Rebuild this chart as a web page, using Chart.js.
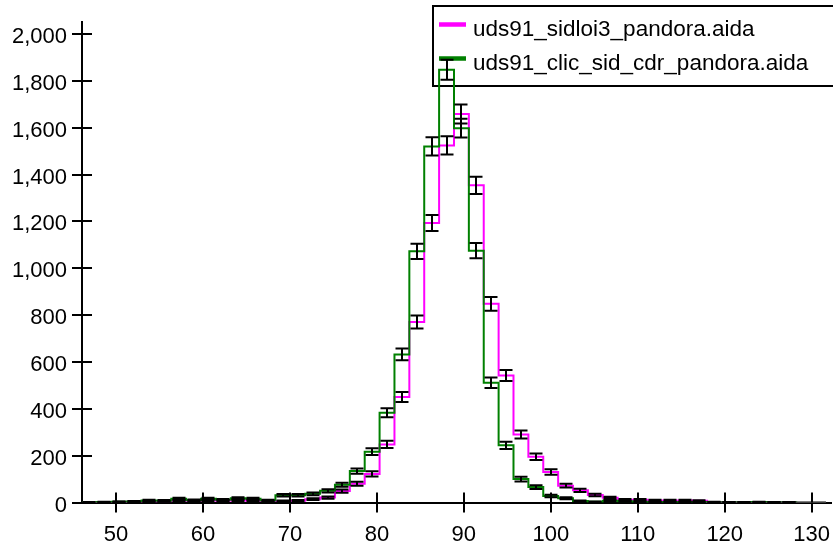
<!DOCTYPE html>
<html>
<head>
<meta charset="utf-8">
<script src="https://cdn.jsdelivr.net/npm/chart.js@4"></script>
<style>
html, body { margin: 0; padding: 0; background: white; }
</style>
</head>
<body>
<canvas id="myChart" width="833" height="545"></canvas>
<script>
// histogram binning (50 bins)
const binStart = 46.09;
const binWidth = 1.711;
const xTicks = [50, 60, 70, 80, 90, 100, 110, 120, 130];
const yTicks = [0, 200, 400, 600, 800, 1000, 1200, 1400, 1600, 1800, 2000];
const seriesNames = ['uds91_sidloi3_pandora.aida', 'uds91_clic_sid_cdr_pandora.aida'];

const sidloi3 = [0, 1, 2, 3, 4, 5, 8, 7, 10, 8, 10, 8, 6, 6, 8, 14, 21, 49, 80,
    122, 248, 450, 770, 1193, 1524, 1658, 1354, 848, 542, 290, 195, 130, 72,
    52, 32, 20, 12, 12, 9, 9, 9, 7, 2, 1, 1, 1, 1, 1, 0, 0];
const clicSid = [1, 2, 3, 4, 9, 8, 16, 10, 16, 12, 18, 16, 9, 31, 31, 37, 50, 76, 134,
    217, 383, 632, 1072, 1520, 1847, 1598, 1075, 511, 244, 100, 66, 28, 18,
    6, 3, 8, 5, 3, 2, 2, 2, 2, 1, 1, 1, 2, 1, 1, 0, 0];

const FONT = 'Liberation Sans, Arial, sans-serif';

function steps(counts) {
    const pts = counts.map((c, i) => ({x: binStart + i * binWidth, y: c}));
    pts.push({x: binStart + counts.length * binWidth, y: counts[counts.length - 1]});
    return pts;
}

// error bars (sqrt N) at bin centres
const errorBars = {
    id: 'errorBars',
    afterDatasetsDraw(chart) {
        const ctx = chart.ctx;
        const xs = chart.scales.x, ys = chart.scales.y;
        ctx.save();
        ctx.strokeStyle = 'black';
        ctx.lineWidth = 2;
        chart.data.datasets.forEach(ds => {
            ds.counts.forEach((c, i) => {
                if (c <= 0) return;
                const e = Math.sqrt(c);
                const px = Math.round(xs.getPixelForValue(binStart + (i + 0.5) * binWidth));
                const y1 = ys.getPixelForValue(c - e);
                const y2 = ys.getPixelForValue(c + e);
                ctx.beginPath();
                ctx.moveTo(px, y1); ctx.lineTo(px, y2);
                ctx.moveTo(px - 6.5, y1); ctx.lineTo(px + 6.5, y1);
                ctx.moveTo(px - 6.5, y2); ctx.lineTo(px + 6.5, y2);
                ctx.stroke();
            });
        });
        ctx.restore();
    }
};

// tick marks cross the axis: draw the inner half
const innerTicks = {
    id: 'innerTicks',
    afterDraw(chart) {
        const ctx = chart.ctx;
        const area = chart.chartArea;
        const xs = chart.scales.x, ys = chart.scales.y;
        ctx.save();
        ctx.strokeStyle = 'black';
        ctx.lineWidth = 2;
        ctx.beginPath();
        xs.ticks.forEach(t => {
            const px = Math.round(xs.getPixelForValue(t.value));
            ctx.moveTo(px, area.bottom); ctx.lineTo(px, area.bottom - 10);
        });
        ys.ticks.forEach(t => {
            const py = Math.round(ys.getPixelForValue(t.value));
            ctx.moveTo(area.left, py); ctx.lineTo(area.left + 10, py);
        });
        ctx.stroke();
        ctx.restore();
    }
};

// legend box sits under the histogram lines
const boxLegend = {
    id: 'boxLegend',
    beforeDatasetsDraw(chart) {
        const ctx = chart.ctx;
        ctx.save();
        ctx.fillStyle = 'white';
        ctx.fillRect(433, 6, 410, 80);
        ctx.strokeStyle = 'black';
        ctx.lineWidth = 2;
        ctx.strokeRect(433, 6, 410, 80);
        const rows = [24.5, 58.5];
        const bases = [36, 70];
        chart.data.datasets.slice().reverse().forEach((ds, k) => {
            ctx.strokeStyle = ds.borderColor;
            ctx.lineWidth = 4.5;
            ctx.beginPath();
            ctx.moveTo(439, rows[k]); ctx.lineTo(466, rows[k]);
            ctx.stroke();
            ctx.fillStyle = 'black';
            ctx.font = '22.5px ' + FONT;
            ctx.textBaseline = 'alphabetic';
            ctx.fillText(ds.label, 473, bases[k]);
        });
        ctx.restore();
    }
};

function noPad(s) {
    s.paddingLeft = 0; s.paddingRight = 0;
    s.paddingTop = 0; s.paddingBottom = 0;
}

new Chart(document.getElementById('myChart').getContext('2d'), {
    type: 'line',
    data: {
        datasets: [{
            label: seriesNames[1],
            counts: clicSid,
            data: steps(clicSid),
            borderColor: '#008000',
            borderWidth: 2,
            pointRadius: 0,
            stepped: 'before',
            fill: false
        }, {
            label: seriesNames[0],
            counts: sidloi3,
            data: steps(sidloi3),
            borderColor: '#ff00ff',
            borderWidth: 2,
            pointRadius: 0,
            stepped: 'before',
            fill: false
        }]
    },
    options: {
        responsive: false,
        animation: false,
        devicePixelRatio: 1,
        layout: { padding: { top: 22, right: 2, left: 0, bottom: 0 } },
        plugins: { legend: { display: false }, tooltip: { enabled: false } },
        scales: {
            x: {
                type: 'linear',
                min: binStart,
                max: 132.22,
                afterBuildTicks: s => { s.ticks = xTicks.map(v => ({value: v})); },
                afterFit: s => { s.height = 42.5; noPad(s); },
                grid: { drawOnChartArea: false, tickLength: 10, color: 'black', lineWidth: 2 },
                border: { color: 'black', width: 2 },
                ticks: { color: 'black', font: { family: FONT, size: 22 }, padding: 9, maxRotation: 0, autoSkip: false }
            },
            y: {
                type: 'linear',
                min: 0,
                max: 2051,
                afterBuildTicks: s => { s.ticks = yTicks.map(v => ({value: v})); },
                afterFit: s => { s.width = 82; noPad(s); },
                grid: { drawOnChartArea: false, tickLength: 10, color: 'black', lineWidth: 2 },
                border: { color: 'black', width: 2 },
                ticks: {
                    color: 'black', font: { family: FONT, size: 22 }, padding: 5, autoSkip: false,
                    labelOffset: 3,
                    callback: v => v.toLocaleString('en-US')
                }
            }
        }
    },
    plugins: [errorBars, innerTicks, boxLegend]
});
</script>
</body>
</html>
